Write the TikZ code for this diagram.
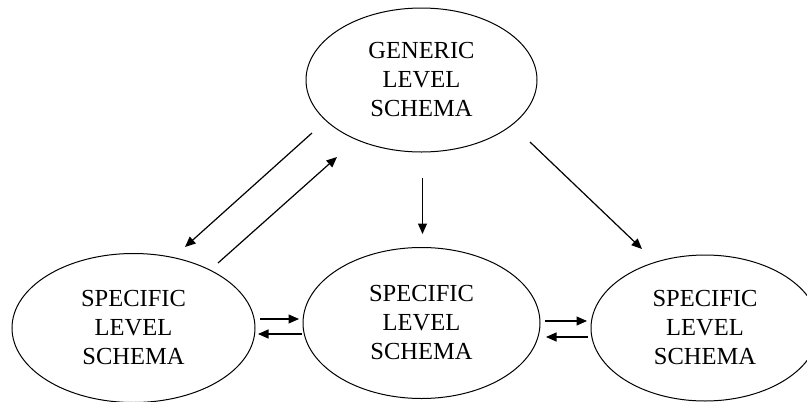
\documentclass[tikz,border=0pt]{standalone}
\usepackage{fontspec}
\setmainfont{Liberation Serif}
\usetikzlibrary{shapes.geometric,arrows.meta}
\tikzset{
  schema/.style={draw, ellipse, line width=1pt, inner sep=0pt, align=center,
    font=\fontsize{24.5}{29}\selectfont},
  conn/.style={line width=1.2pt, -{Triangle[length=10.5pt,width=9pt]}}
}
\begin{document}
\begin{tikzpicture}[x=1pt,y=-1pt]
\useasboundingbox (0,0) rectangle (807,402);
\clip (0,0) rectangle (807,402);
\node[schema, minimum width=231pt, minimum height=144pt] (gen) at (421.5,80) {GENERIC\\LEVEL\\SCHEMA};
\node[schema, minimum width=243pt, minimum height=149pt] (left) at (133.5,328) {SPECIFIC\\LEVEL\\SCHEMA};
\node[schema, minimum width=237pt, minimum height=151pt] (mid) at (421.5,323) {SPECIFIC\\LEVEL\\SCHEMA};
\node[schema, minimum width=228pt, minimum height=146pt] (right) at (705,328) {SPECIFIC\\LEVEL\\SCHEMA};
% coordinates for connector ends
\coordinate (g1) at (312,133);
\coordinate (l1) at (185,247);
\coordinate (l2) at (218,263);
\coordinate (g2) at (337,157);
\coordinate (g3) at (422.5,178);
\coordinate (m0) at (422.5,234);
\coordinate (g4) at (530,142);
\coordinate (r0) at (642,249);
\coordinate (lm1) at (260,319);
\coordinate (lm2) at (299,319);
\coordinate (ml1) at (302,334);
\coordinate (ml2) at (258,334);
\coordinate (mr1) at (545,321);
\coordinate (mr2) at (587,321);
\coordinate (rm1) at (588,337);
\coordinate (rm2) at (546,337);
\draw[conn] (g1) -- (l1);
\draw[conn] (l2) -- (g2);
\draw[conn] (g3) -- (m0);
\draw[conn] (g4) -- (r0);
\draw[conn] (lm1) -- (lm2);
\draw[conn] (ml1) -- (ml2);
\draw[conn] (mr1) -- (mr2);
\draw[conn] (rm1) -- (rm2);
\end{tikzpicture}
\end{document}
